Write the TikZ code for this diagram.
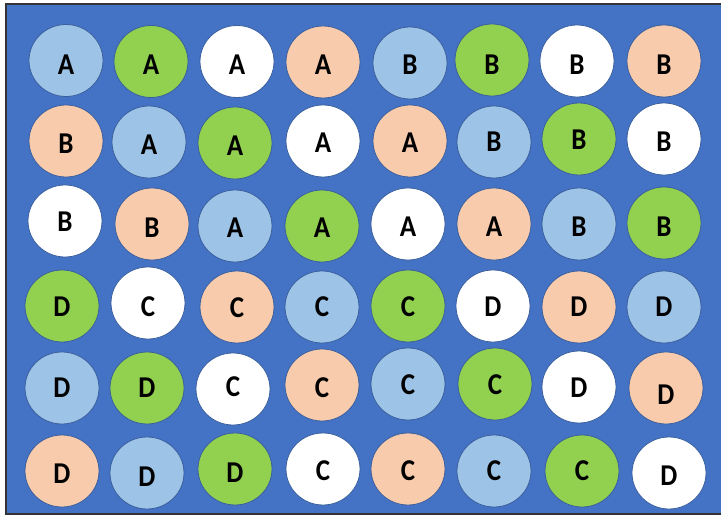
\documentclass[tikz,border=0pt]{standalone}
\usepackage{fontspec}
\setmainfont{Carlito}
\usetikzlibrary{shapes.geometric}
\definecolor{bgblue}{HTML}{4472C4}
\definecolor{LB}{HTML}{9DC3E6}
\definecolor{GR}{HTML}{92D050}
\definecolor{PE}{HTML}{F8CBAD}
\definecolor{WH}{HTML}{FFFFFF}
\definecolor{edge}{HTML}{3A5F9E}
\tikzset{
  well/.style={ellipse, draw=edge, line width=0.8pt, minimum width=74pt, minimum height=72pt, inner sep=0pt},
  lbl/.style={inner sep=0pt, font=\fontsize{27}{27}\selectfont\bfseries, text=black}
}
\begin{document}
\begin{tikzpicture}[x=1pt,y=-1pt]
\useasboundingbox (0,0) rectangle (721,516);
\clip (0,0) rectangle (721,516);
\draw[line width=2pt, draw=black!80, fill=bgblue] (6,4) rectangle (726,514);
\foreach \n/\x/\y/\c/\t/\ty in {
 11/66/60.5/LB/A/65, 12/151/61.5/GR/A/65, 13/237/61.5/WH/A/65, 14/323/62/PE/A/65,
 15/410/63/LB/B/65, 16/492/60/GR/B/65, 17/577/61/WH/B/65, 18/664/61/PE/B/65,
 21/66/141/PE/B/144, 22/149/142/LB/A/145, 23/235/143/GR/A/146, 24/323/141/WH/A/143,
 25/410/141/PE/A/143, 26/494/142/LB/B/142, 27/579/139/GR/B/140, 28/664/139/WH/B/142,
 31/65/221/WH/B/222, 32/152/224/PE/B/228, 33/235/226/LB/A/228, 34/322/226/GR/A/228,
 35/408/224/WH/A/227, 36/494/224/PE/A/227, 37/579/224/LB/B/227, 38/664/223/GR/B/227,
 41/62/306/GR/D/307, 42/148/303/WH/C/307, 43/237/307/PE/C/308, 44/322/307/LB/C/307,
 45/408/306/GR/C/307, 46/493/306/WH/D/307, 47/579/307/PE/D/307, 48/664/307/LB/D/307,
 51/62/388/LB/D/388, 52/147/388/GR/D/388, 53/233/389/WH/C/387, 54/322/385/PE/C/388,
 55/408/384/LB/C/385, 56/495/384/GR/C/385, 57/579/387/WH/D/388, 58/666/388/PE/D/395,
 61/62/471/PE/D/474, 62/147/473/LB/D/477, 63/235/469/GR/D/473, 64/323/469/WH/C/471,
 65/408/469/PE/C/471, 66/494/471/LB/C/471, 67/582/471/GR/C/471, 68/669/473/WH/D/476}
{
  \node[well, fill=\c] (w\n) at (\x,\y) {};
  \node[lbl] (t\n) at (\x,\ty) {\scalebox{1}[1.12]{\t}};
}
\end{tikzpicture}
\end{document}
